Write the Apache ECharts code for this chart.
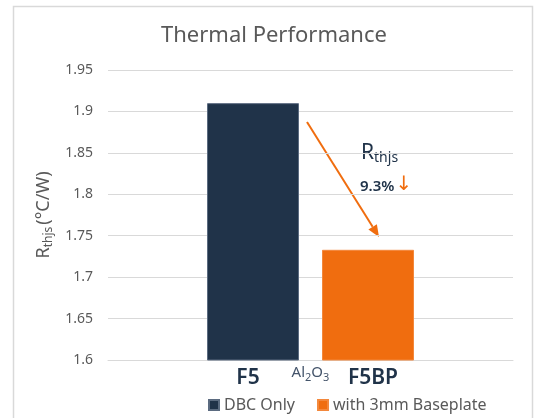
<!DOCTYPE html>
<html>
<head>
<meta charset="utf-8">
<script src="https://cdn.jsdelivr.net/npm/echarts@6/dist/echarts.min.js"></script>
<style>
  html, body { margin: 0; padding: 0; background: #fff; }
  #chart { width: 538px; height: 418px; }
</style>
</head>
<body>
<div id="chart"></div>
<script>
// 数据
const categories = ['Al2O3'];
const seriesNames = ['DBC Only', 'with 3mm Baseplate'];
const dbcOnly = [1.91];
const withBaseplate = [1.733];
const barLabels = ['F5', 'F5BP'];
const yMin = 1.6;
const yMax = 1.95;
const yStep = 0.05;

const navy = '#203349';
const orange = '#F06D0F';
const gray = '#595959';
const font = 'Noto Sans';

const chart = echarts.init(document.getElementById('chart'));

// 箭头（从F5指向F5BP）
function arrowGraphic(x1, y1, x2, y2) {
  const dx = x2 - x1, dy = y2 - y1;
  const len = Math.sqrt(dx * dx + dy * dy);
  const ux = dx / len, uy = dy / len;
  const bx = x2 - ux * 12, by = y2 - uy * 12;
  const px = -uy * 5, py = ux * 5;
  return [
    {
      type: 'line',
      shape: { x1: x1, y1: y1, x2: bx, y2: by },
      style: { stroke: orange, lineWidth: 2 }
    },
    {
      type: 'polygon',
      shape: { points: [[x2, y2], [bx + px, by + py], [bx - px, by - py]] },
      style: { fill: orange }
    }
  ];
}

const option = {
  animation: false,
  textStyle: { fontFamily: font },
  title: {
    text: 'Thermal Performance',
    left: 156,
    top: 20,
    textStyle: { fontSize: 22, fontWeight: 'normal', color: gray, fontFamily: font }
  },
  legend: {
    left: 203,
    top: 392,
    icon: 'rect',
    itemWidth: 10,
    itemHeight: 10,
    itemGap: 22,
    textStyle: { fontSize: 16, color: gray },
    data: seriesNames
  },
  grid: { left: 108, right: 25, top: 70, bottom: 58 },
  xAxis: {
    type: 'category',
    data: categories,
    axisLine: { lineStyle: { color: '#d9d9d9' } },
    axisTick: { show: false },
    axisLabel: {
      margin: 5,
      formatter: () => '{a|Al}{s|2}{a|O}{s|3}',
      rich: {
        a: { fontSize: 15, color: '#44546a', lineHeight: 18, verticalAlign: 'top' },
        s: { fontSize: 11, color: '#44546a', lineHeight: 12, padding: [7, 0, 0, 0], verticalAlign: 'top' }
      }
    }
  },
  yAxis: {
    type: 'value',
    min: yMin,
    max: yMax,
    interval: yStep,
    axisLine: { show: false },
    axisTick: { show: false },
    splitLine: { lineStyle: { color: '#d9d9d9' } },
    axisLabel: { fontSize: 14, color: gray, margin: 15 },
    name: 'R{s|thjs}(°C/W)',
    nameLocation: 'middle',
    nameGap: 46,
    nameRotate: 90,
    nameTextStyle: {
      fontSize: 18,
      color: gray,
      rich: {
        s: { fontSize: 12, color: gray, padding: [9, 2, 0, 0] }
      }
    }
  },
  series: [
    {
      name: seriesNames[0],
      type: 'bar',
      data: dbcOnly,
      barWidth: 92,
      barGap: '25%',
      itemStyle: { color: navy, borderColor: '#5b6b80', borderWidth: 1 },
      label: {
        show: true,
        position: 'bottom',
        distance: 7,
        offset: [-5, 0],
        formatter: () => barLabels[0],
        fontSize: 21,
        fontWeight: 600,
        color: navy
      }
    },
    {
      name: seriesNames[1],
      type: 'bar',
      data: withBaseplate,
      barWidth: 92,
      itemStyle: { color: orange, borderColor: '#f3883c', borderWidth: 1 },
      label: {
        show: true,
        position: 'bottom',
        distance: 7,
        offset: [5, 0],
        formatter: () => barLabels[1],
        fontSize: 21,
        fontWeight: 600,
        color: navy
      }
    }
  ],
  graphic: [
    {
      type: 'rect',
      silent: true,
      shape: { x: 13.5, y: 6.5, width: 519, height: 430 },
      style: { fill: null, stroke: '#d9d9d9', lineWidth: 1.5 }
    },
    ...arrowGraphic(307, 122, 379, 237),
    {
      type: 'text',
      left: 361,
      top: 143,
      style: {
        text: '{r|R}{s|thjs}',
        rich: {
          r: { fontSize: 21, fill: navy, fontFamily: font },
          s: { fontSize: 14, fill: navy, fontFamily: font, padding: [9, 0, 0, 0] }
        }
      }
    },
    {
      type: 'text',
      left: 360,
      top: 175,
      style: {
        text: '{n|9.3%}{o|↓}',
        rich: {
          n: { fontSize: 15, fontWeight: 600, fill: navy, fontFamily: font, padding: [3, 1, 0, 0] },
          o: { fontSize: 20, fill: orange, fontFamily: 'DejaVu Sans' }
        }
      }
    }
  ]
};

chart.setOption(option);
</script>
</body>
</html>
